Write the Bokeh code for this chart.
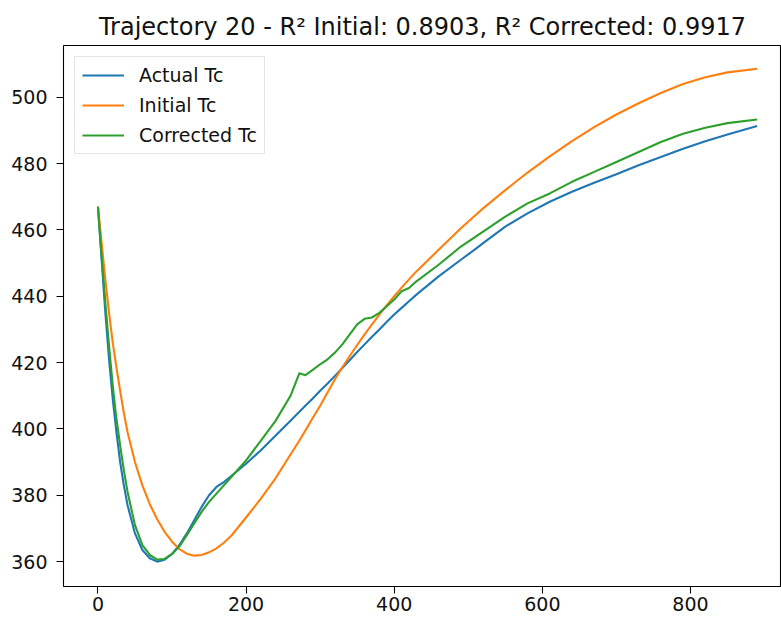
from bokeh.plotting import figure
from bokeh.models import FixedTicker, Legend, LegendItem, ColumnDataSource
from bokeh.embed import file_html
from bokeh.resources import INLINE

# Time steps and the three Tc series for trajectory 20
time = [0, 5, 10, 15, 20, 25, 30, 35, 40, 50, 60, 70, 80, 90, 100, 110, 120, 130,
        140, 150, 160, 170, 180, 200, 220, 240, 260, 272, 280, 290, 300, 310, 320,
        330, 340, 350, 360, 370, 380, 390, 400, 410, 420, 430, 460, 490, 510, 520,
        550, 580, 610, 640, 670, 700, 730, 760, 790, 820, 850, 890]

actual_tc = [467, 451, 435, 421, 409, 399, 390, 383, 377, 368.5, 363.5, 361, 360,
             360.6, 362.3, 365, 368.5, 372.5, 376.5, 380, 382.5, 384, 385.8, 389.5,
             393.6, 398, 402.5, 405.2, 407, 409.2, 411.5, 413.7, 416, 418.4, 420.8,
             423.2, 425.5, 427.8, 430, 432.3, 434.5, 436.5, 438.5, 440.5, 446, 451,
             454.3, 456, 461, 465, 468.5, 471.5, 474.2, 476.8, 479.5, 482, 484.5,
             486.7, 488.8, 491.3]

initial_tc = [467, 456, 445, 435, 426, 418.5, 411.5, 404.8, 399, 390, 383, 377.3,
              372.8, 369, 366, 363.8, 362.4, 361.8, 362.0, 362.8, 364, 365.7, 367.8,
              373.3, 379, 385.2, 392.3, 396.5, 399.5, 403.3, 407, 411, 415, 418.6, 422,
              425.3, 428.5, 431.5, 434.5, 437.3, 440, 442.6, 445.1, 447.5, 454, 460.5,
              464.5, 466.5, 472, 477.3, 482.2, 486.8, 491, 494.8, 498.2, 501.3, 504,
              506, 507.5, 508.6]

corrected_tc = [467, 452, 438, 425, 413, 403, 395, 387.5, 381, 371, 365, 362, 360.6,
                360.8, 362.3, 364.6, 368, 371.5, 375, 378, 380.5, 383, 385.5, 390.5,
                396.5, 402.5, 410, 416.8, 416.2, 417.8, 419.5, 421, 423, 425.5, 428.5,
                431.5, 433.2, 433.6, 435, 437, 439, 441.5, 442.5, 444.5, 449.5, 455,
                458, 459.5, 464, 468, 471, 474.5, 477.5, 480.5, 483.5, 486.5, 489,
                490.8, 492.2, 493.3]

x_ticks = [0, 200, 400, 600, 800]
y_ticks = [360, 380, 400, 420, 440, 460, 480, 500]

series_names = ["Actual Tc", "Initial Tc", "Corrected Tc"]
series_colors = ["#1f77b4", "#ff7f0e", "#2ca02c"]

FONT = "DejaVu Sans"

p = figure(
    width=781, height=617,
    x_range=(-46.5, 922.9), y_range=(352.5, 515.6),
    output_backend="svg", toolbar_location=None,
    min_border_left=63, min_border_right=0,
    min_border_top=45, min_border_bottom=31,
    background_fill_color="white", border_fill_color="white",
)

p.title.text = "Trajectory 20 - R\u00b2 Initial: 0.8903, R\u00b2 Corrected: 0.9917"
p.title.text_font = FONT
p.title.text_font_size = "24px"
p.title.text_font_style = "normal"
p.title.text_color = "#111111"
p.title.align = "center"
p.title.offset = 4
p.title.standoff = 9

p.xgrid.visible = False
p.ygrid.visible = False
p.outline_line_color = "black"
p.outline_line_width = 1.1

for ax in (p.xaxis[0], p.yaxis[0]):
    ax.axis_line_color = None
    ax.major_tick_line_color = "black"
    ax.major_tick_line_width = 1.1
    ax.major_tick_out = 7
    ax.major_tick_in = 0
    ax.minor_tick_line_color = None
    ax.major_label_text_font = FONT
    ax.major_label_text_font_size = "19px"
    ax.major_label_text_color = "#111111"

p.xaxis[0].ticker = FixedTicker(ticks=x_ticks)
p.yaxis[0].ticker = FixedTicker(ticks=y_ticks)
p.xaxis[0].major_label_standoff = 3
p.yaxis[0].major_label_standoff = 9

src = ColumnDataSource(dict(t=time, actual=actual_tc, initial=initial_tc,
                            corrected=corrected_tc))

renderers = []
for col, color in zip(["actual", "initial", "corrected"], series_colors):
    r = p.line("t", col, source=src, line_color=color, line_width=2.1,
               line_join="round")
    renderers.append(r)

legend = Legend(
    items=[LegendItem(label=n, renderers=[r]) for n, r in zip(series_names, renderers)],
    location="top_left",
    margin=11, padding=7, spacing=8,
    glyph_width=42, glyph_height=22, label_height=22,
    label_standoff=15,
    label_text_font=FONT, label_text_font_size="19px", label_text_color="#111111",
    border_line_color="#cccccc", border_line_width=1,
    background_fill_color="white", background_fill_alpha=0.8,
)
p.add_layout(legend, "center")

open("out.html", "w").write(file_html(p, INLINE))
